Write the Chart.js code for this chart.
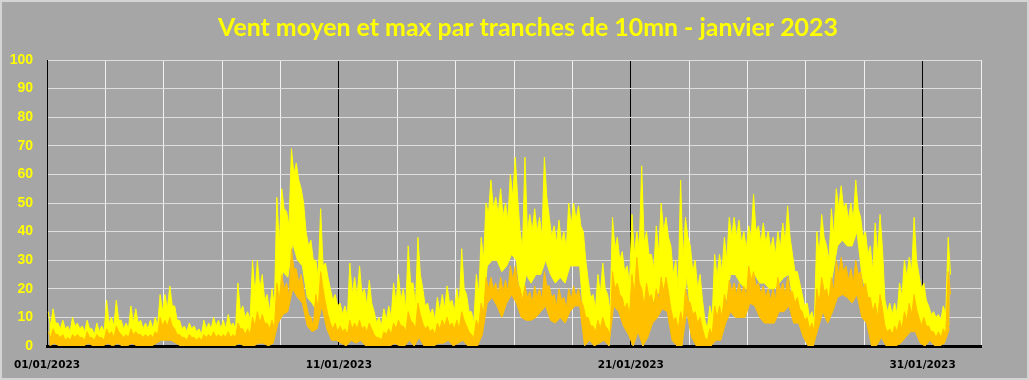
<!DOCTYPE html>
<html>
<head>
<meta charset="utf-8">
<script src="https://cdn.jsdelivr.net/npm/chart.js@4.4.1/dist/chart.umd.min.js"></script>
<style>
  html, body { margin: 0; padding: 0; background: #a6a6a6; }
  #wrap { width: 1029px; height: 380px; }
</style>
</head>
<body>
<div id="wrap"><canvas id="c" width="1029" height="380"></canvas></div>
<script>
// ---- chart texts ----
const chartTitle = 'Vent moyen et max par tranches de 10mn - janvier 2023';
const dateLabels = ['01/01/2023', '11/01/2023', '21/01/2023', '31/01/2023'];
const dateLabelDays = [0, 10, 20, 30];
const yTickValues = [0, 10, 20, 30, 40, 50, 60, 70, 80, 90, 100];

// ---- values: per 4-hour slot (6 per day, 31 days) ----
// "max" wind (yellow): highest gust spike in each slot
const maxPeak = [
  12,13,8,9,7,10,   8,7,9,6,8,7,     16,10,16,9,8,14,  13,9,8,9,10,18,
  18,21,14,9,7,8,   7,6,9,8,10,9,    9,11,8,22,14,12,  30,30,25,18,20,52,
  55,47,69,64,55,40, 37,30,48,29,20,18, 15,14,29,24,28,20, 23,12,10,13,14,22,
  25,20,35,22,38,20, 15,13,17,18,21,16, 20,34,18,12,25,38, 50,58,52,55,50,60,
  66,40,66,46,48,45, 66,45,42,44,40,50, 50,49,40,23,18,25, 29,18,45,38,33,28,
  46,40,63,40,32,42, 50,45,35,30,58,45, 35,30,25,9,14,32,  32,38,45,45,44,40,
  42,53,42,43,40,38, 40,43,49,32,26,18, 15,12,40,46,35,48, 55,56,50,50,58,45,
  40,35,43,46,16,15, 15,22,30,31,45,25, 22,14,12,11,14,38
];
// "max" wind (yellow): usual top of the band in each slot
const maxTop = [
  7,8,6,6,5,7,      6,5,6,4,5,5,     8,7,9,6,6,8,      8,6,6,6,7,12,
  13,14,9,6,5,6,    5,4,6,6,7,6,     6,7,6,12,10,9,    18,20,16,12,14,35,
  48,42,60,58,50,35, 30,24,28,24,16,14, 11,10,18,17,18,14, 15,8,7,9,10,15,
  16,13,22,14,25,14, 11,9,12,13,15,12, 14,20,12,8,18,30, 46,48,46,45,44,52,
  52,34,40,40,40,38, 52,38,36,36,34,42, 44,42,30,17,13,18, 20,12,34,30,26,22,
  32,34,36,32,27,32, 40,38,25,20,30,38, 26,20,16,6,10,24, 26,30,38,38,36,34,
  38,40,36,36,34,32, 34,36,38,26,22,14, 10,8,32,38,30,38, 48,48,44,44,48,38,
  32,26,32,34,12,11, 11,17,24,26,30,20, 16,11,10,9,11,25
];
// "max" wind (yellow): lowest value in each slot
const maxLow = [
  2,3,2,1,0,2,      1,0,2,1,0,1,     2,1,2,0,1,2,      1,0,1,0,2,5,
  4,5,2,0,0,1,      0,0,1,0,1,0,     0,1,0,2,1,2,      3,2,2,1,3,15,
  26,24,36,30,28,17, 15,12,17,10,6,6, 4,3,5,4,5,3,      3,0,0,1,2,4,
  3,0,4,0,6,2,      2,0,3,3,4,2,     3,5,1,0,2,10,     28,30,30,26,28,32,
  30,15,25,22,25,25, 30,25,22,24,22,28, 28,28,5,5,2,4,  5,0,20,18,12,8,
  10,8,0,10,15,18,  20,20,6,0,0,25,  8,0,0,0,0,8,      8,15,25,25,22,20,
  20,25,22,22,20,20, 22,24,25,15,12,6, 0,0,15,22,15,25, 35,37,35,35,40,25,
  18,5,5,10,3,2,    2,5,8,12,12,6,   3,3,2,2,3,8
];
// mean wind (orange): highest value in each slot
const meanHigh = [
  5,6,4,4,3,4,      4,3,5,3,4,3,     6,5,7,4,4,6,      5,4,4,4,5,10,
  9,10,6,4,3,4,     3,3,4,4,5,4,     4,5,4,8,6,6,      10,12,11,8,9,22,
  25,22,34,27,25,15, 10,18,26,15,8,8, 7,6,9,8,9,7,      8,4,3,5,6,8,
  9,7,12,8,15,8,    7,6,8,9,10,8,    9,12,7,4,9,15,    24,24,22,24,23,28,
  28,20,21,19,21,20, 26,21,18,20,17,20, 21,20,14,10,7,9, 10,6,26,22,17,15,
  25,31,20,22,18,20, 24,24,13,10,12,20, 15,12,10,3,6,14, 14,18,23,22,22,21,
  28,26,22,21,20,20, 24,22,24,19,17,12, 10,8,20,24,20,24, 30,31,28,27,30,26,
  22,17,15,18,7,6,  7,9,12,15,18,10, 10,7,5,5,6,26
];
// mean wind (orange): usual top of the band in each slot
const meanTop = [
  3,4,3,2,2,3,      3,2,3,2,3,2,     4,3,5,3,3,4,      4,3,3,3,4,7,
  7,7,4,3,2,3,      2,2,3,3,3,3,     3,3,3,6,4,4,      7,8,8,6,6,16,
  20,17,27,22,20,11, 7,13,20,11,6,5, 5,4,6,6,6,5,      6,3,2,4,4,6,
  7,5,9,6,11,6,     5,4,6,7,7,6,     6,9,5,3,7,11,     20,20,18,19,19,23,
  22,16,17,15,17,16, 21,17,14,16,13,16, 17,16,10,7,5,6, 7,4,20,18,13,11,
  18,22,14,17,14,16, 19,19,9,6,8,16, 11,8,6,2,4,10,    10,14,19,18,18,17,
  23,21,18,17,16,16, 19,18,19,15,13,9, 6,5,15,19,16,19, 25,26,23,22,25,20,
  17,12,10,13,5,4,  5,6,9,11,13,7,   7,5,3,3,4,18
];
// mean wind (orange): lowest value in each slot
const meanLow = [
  0,1,0,0,0,0,      0,0,1,0,0,0,     1,0,1,0,0,1,      0,0,0,0,1,2,
  2,2,1,0,0,0,      0,0,0,0,0,0,     0,0,0,1,0,0,      0,1,1,0,1,8,
  11,12,20,17,15,7, 5,6,14,6,2,2,    1,0,2,1,2,0,      0,0,0,0,0,1,
  0,0,2,0,3,0,      0,0,1,1,2,0,     1,2,0,0,0,4,      15,17,14,10,15,18,
  15,10,9,9,10,12,  14,9,8,10,8,12,  14,14,0,2,0,1,    2,0,14,12,7,4,
  0,5,0,3,8,10,     13,12,2,0,0,12,  3,0,0,0,0,2,      2,8,12,10,10,10,
  15,14,10,8,8,8,   12,12,14,8,8,3,  0,0,6,12,8,12,    17,18,17,15,18,10,
  8,0,0,3,0,0,      0,1,3,5,5,1,     0,2,0,0,1,6
];

// slot i covers days [i/6, (i+1)/6)
const slotsPerDay = 6;
const slotDays = maxPeak.map((_, i) => i / slotsPerDay);
function zigzag(a, b) {
  const pts = [];
  slotDays.forEach((d, i) => {
    pts.push({ x: d + 0.25 / slotsPerDay, y: a[i] });
    pts.push({ x: d + 0.75 / slotsPerDay, y: b[i] });
  });
  return pts;
}
function centred(a) {
  return slotDays.map((d, i) => ({ x: d + 0.5 / slotsPerDay, y: a[i] }));
}

const bgPlugin = {
  id: 'bg',
  beforeDraw(chart) {
    const ctx = chart.ctx;
    ctx.save();
    ctx.fillStyle = '#a6a6a6';
    ctx.fillRect(0, 0, chart.width, chart.height);
    ctx.strokeStyle = '#d4d4d4';
    ctx.lineWidth = 2;
    ctx.strokeRect(1, 1, chart.width - 2, chart.height - 2);
    ctx.restore();
  }
};

const titlePlugin = {
  id: 'customTitle',
  afterDraw(chart) {
    const ctx = chart.ctx;
    ctx.save();
    let size = 24;
    ctx.font = 'bold ' + size + 'px Lato, "Liberation Sans", sans-serif';
    const w = ctx.measureText(chartTitle).width;
    size = size * 620 / w;
    ctx.font = 'bold ' + size.toFixed(2) + 'px Lato, "Liberation Sans", sans-serif';
    ctx.fillStyle = '#ffff00';
    ctx.textAlign = 'center';
    ctx.textBaseline = 'middle';
    ctx.fillText(chartTitle, 528, 28);
    ctx.restore();
  }
};

const ORANGE = '#ffc000';
const YELLOW = '#ffff00';

new Chart(document.getElementById('c'), {
  type: 'line',
  data: {
    datasets: [
      { label: 'Vent moyen', data: zigzag(meanHigh, meanTop), borderColor: ORANGE, backgroundColor: ORANGE,
        borderWidth: 1, pointRadius: 0, tension: 0, fill: '+1' },
      { label: 'Vent moyen (bas)', data: centred(meanLow), borderColor: ORANGE,
        borderWidth: 1, pointRadius: 0, tension: 0, fill: false },
      { label: 'Vent max', data: zigzag(maxPeak, maxTop), borderColor: YELLOW, backgroundColor: YELLOW,
        borderWidth: 1, pointRadius: 0, tension: 0, fill: '+1' },
      { label: 'Vent max (bas)', data: centred(maxLow), borderColor: YELLOW,
        borderWidth: 1, pointRadius: 0, tension: 0, fill: false }
    ]
  },
  options: {
    responsive: false,
    animation: false,
    events: [],
    layout: { padding: { top: 60, right: 48, bottom: 0, left: 0 } },
    plugins: {
      legend: { display: false },
      title: { display: false },
      tooltip: { enabled: false },
      filler: { propagate: false }
    },
    scales: {
      x: {
        type: 'linear',
        min: 0,
        max: 32,
        z: 1,
        afterFit(scale) { scale.height = 34; },
        border: { color: '#000000', width: 3 },
        grid: {
          drawTicks: false,
          lineWidth: 1,
          color(ctx) {
            const v = ctx.tick ? ctx.tick.value : 0;
            return (v % 10 === 0) ? '#000000' : '#f2f2f2';
          }
        },
        ticks: {
          stepSize: 2,
          autoSkip: false,
          maxRotation: 0,
          padding: 13,
          color: '#000000',
          font: { family: '"DejaVu Sans"', weight: 'bold', size: 10.5 },
          callback(value) {
            const k = dateLabelDays.indexOf(value);
            return k >= 0 ? dateLabels[k] : '';
          }
        }
      },
      y: {
        min: 0,
        max: 100,
        z: 1,
        afterFit(scale) { scale.width = 47; },
        border: { color: '#000000', width: 1 },
        grid: { drawTicks: false, color: '#dedede', lineWidth: 1 },
        afterBuildTicks(scale) { scale.ticks = yTickValues.map(v => ({ value: v })); },
        ticks: {
          padding: 14,
          color: '#ffff00',
          font: { family: '"Liberation Sans"', weight: 'bold', size: 14 }
        }
      }
    }
  },
  plugins: [bgPlugin, titlePlugin]
});
</script>
</body>
</html>
